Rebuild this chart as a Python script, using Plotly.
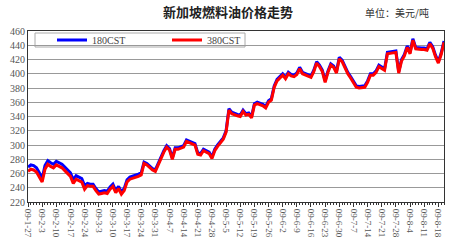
import plotly.graph_objects as go

# Category labels (one every 5 trading days)
tick_labels = ["09-1-27", "09-2-3", "09-2-10", "09-2-17", "09-2-24", "09-3-3", "09-3-10",
               "09-3-17", "09-3-24", "09-3-31", "09-4-7", "09-4-14", "09-4-21", "09-4-28",
               "09-5-5", "09-5-12", "09-5-19", "09-5-26", "09-6-2", "09-6-9", "09-6-16",
               "09-6-23", "09-6-30", "09-7-7", "09-7-14", "09-7-21", "09-7-28", "09-8-4",
               "09-8-11", "09-8-18"]

cst380 = [263, 266, 265, 262, 255, 248, 266, 273, 270, 268,
          272, 270, 268, 264, 260, 256, 246, 252, 250, 248,
          238, 243, 242, 242, 236, 231, 232, 233, 232, 238,
          242, 233, 239, 231, 236, 248, 252, 253, 255, 256,
          258, 274, 272, 268, 265, 263, 272, 282, 290, 297,
          293, 280, 294, 294, 295, 297, 305, 303, 301, 300,
          287, 286, 292, 290, 288, 281, 292, 298, 303, 308,
          318, 349, 344, 342, 341, 340, 347, 342, 343, 338,
          356, 358, 357, 355, 352, 360, 363, 381, 390, 394,
          398, 393, 400, 397, 396, 399, 407, 400, 398, 396,
          395, 403, 415, 410, 403, 388, 402, 412, 409, 401,
          421, 417, 408, 400, 394, 388, 381, 380, 381, 381,
          388, 398, 398, 402, 410, 407, 405, 428, 429, 430,
          430, 401, 418, 425, 437, 428, 447, 435, 434, 434,
          434, 433, 442, 436, 424, 415, 427, 444]

cst180 = [269, 272, 271, 268, 261, 253, 271, 278, 275, 273,
          277, 275, 273, 269, 265, 261, 251, 257, 255, 253,
          243, 246, 245, 245, 239, 234, 235, 236, 235, 241,
          245, 236, 242, 234, 239, 251, 255, 256, 258, 259,
          261, 276, 274, 270, 267, 265, 274, 284, 292, 299,
          295, 282, 296, 296, 297, 299, 307, 305, 303, 302,
          289, 288, 294, 292, 290, 283, 294, 300, 305, 310,
          320, 351, 346, 344, 343, 342, 349, 344, 345, 340,
          358, 360, 359, 357, 354, 362, 365, 383, 392, 396,
          400, 395, 402, 399, 398, 401, 409, 402, 400, 398,
          397, 405, 417, 412, 405, 390, 404, 414, 411, 403,
          423, 419, 410, 402, 396, 390, 383, 382, 383, 383,
          390, 400, 400, 404, 412, 409, 407, 430, 431, 432,
          432, 403, 420, 427, 439, 430, 449, 437, 436, 436,
          436, 435, 444, 438, 426, 417, 429, 446]

x = list(range(len(cst380)))
tick_vals = [i * 5 for i in range(len(tick_labels))]

W, H = 450, 250
ML, MR, MT, MB = 28, 6, 31, 48
pw = W - ML - MR
ph = H - MT - MB


def px(xp):
    return (xp - ML) / pw


def py(yp):
    return (H - MB - yp) / ph


fig = go.Figure()
fig.add_trace(go.Scatter(x=x, y=cst180, mode="lines", name="180CST",
                         line=dict(color="#0000FF", width=3)))
fig.add_trace(go.Scatter(x=x, y=cst380, mode="lines", name="380CST",
                         line=dict(color="#FF0000", width=3)))

fig.update_layout(
    width=W, height=H,
    margin=dict(l=ML, r=MR, t=MT, b=MB),
    paper_bgcolor="white", plot_bgcolor="white",
    font=dict(family="Liberation Serif", size=10, color="#444"),
    showlegend=True,
    legend=dict(orientation="h", x=px(52), y=py(40), xanchor="left", yanchor="middle",
                bgcolor="rgba(0,0,0,0)", borderwidth=0,
                font=dict(family="Liberation Serif", size=10, color="#444"),
                entrywidth=70, entrywidthmode="pixels", itemwidth=30,
                tracegroupgap=0),
    shapes=[
        dict(type="rect", xref="paper", yref="paper",
             x0=px(35), x1=px(245), y0=py(47), y1=py(33),
             line=dict(color="#aaa", width=1), fillcolor="white", layer="below"),
    ],
    annotations=[
        dict(text="<b>新加坡燃料油价格走势</b>", x=px(228), y=py(12), xref="paper", yref="paper",
             xanchor="center", yanchor="middle",
             showarrow=False, font=dict(family="Noto Sans CJK SC", size=13, color="#222")),
        dict(text="单位：美元/吨", x=px(397), y=py(13), xref="paper", yref="paper",
             xanchor="center", yanchor="middle",
             showarrow=False, font=dict(family="Noto Sans CJK SC", size=10, color="#333")),
    ],
)

fig.update_xaxes(range=[0, len(cst380) - 1], tickmode="array", tickvals=tick_vals,
                 ticktext=tick_labels, tickangle=90, showgrid=False,
                 showline=True, linecolor="#333", linewidth=1, mirror=True,
                 ticks="outside", ticklen=4, tickcolor="#333",
                 minor=dict(dtick=1, tick0=0, ticks="outside", ticklen=2, tickcolor="#333"),
                 tickfont=dict(size=9, color="#555"), zeroline=False)
fig.update_yaxes(range=[220, 460], dtick=20, showgrid=True, gridcolor="#999", gridwidth=1,
                 showline=True, linecolor="#333", linewidth=1, mirror=True,
                 ticks="", tickfont=dict(size=10, color="#555"), zeroline=False)

fig.write_html("out.html")
